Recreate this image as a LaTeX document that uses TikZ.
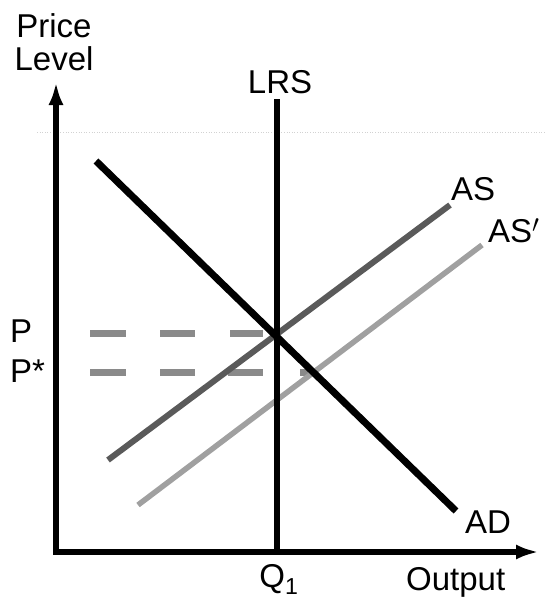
\documentclass[tikz,border=0pt]{standalone}
\usepackage{fontspec}
\setmainfont{Liberation Sans}
\usetikzlibrary{arrows.meta}
\definecolor{asdark}{HTML}{5A5A5A}
\definecolor{aslight}{HTML}{A0A0A0}
\definecolor{dashgray}{HTML}{8A8A8A}
\begin{document}
\begin{tikzpicture}[x=1pt,y=-1pt,
  lbl/.style={inner sep=0pt,font=\fontsize{33}{33}\selectfont},
  axisline/.style={line width=6.5pt,line join=miter,{Latex[length=23pt,width=15pt]}-{Latex[length=23pt,width=15pt]}},
  curveAD/.style={line width=7pt,black},
  curveAS/.style={line width=6pt,asdark},
  curveASp/.style={line width=5.5pt,aslight},
  lrsline/.style={line width=6pt,black},
  pdash/.style={line width=7pt,dashgray}]
\useasboundingbox (0,0) rectangle (547,600);
% faint scan line
\draw[gray!35,line width=0.6pt,dotted] (37,132) -- (545,132);
% axes
\coordinate (ytip) at (56,82);
\coordinate (xtip) at (539,552);
\draw[axisline] (ytip) |- (xtip);
% labels
\node[lbl,anchor=base] (price) at (54,37) {Price};
\node[lbl,anchor=base] (level) at (54,70) {Level};
\node[lbl,anchor=base] (lrslbl) at (280,93) {LRS};
\node[lbl,anchor=base west] (aslbl) at (451,200) {AS};
\node[lbl,anchor=base west] (asplbl) at (488,242) {AS$'$};
\node[lbl,anchor=base west] (plbl) at (10,342) {P};
\node[lbl,anchor=base west] (pslbl) at (10,382) {P*};
\node[lbl,anchor=base west] (adlbl) at (465,533) {AD};
\node[lbl,anchor=base] (qlbl) at (279,587) {Q\textsubscript{1}};
\node[lbl,anchor=base west] (outlbl) at (406,590) {Output};
% curve endpoints
\coordinate (asp1) at (138,505); \coordinate (asp2) at (482,245);
\coordinate (as1) at (108,460);  \coordinate (as2) at (450,205);
\coordinate (ad1) at (96,161);   \coordinate (ad2) at (456,511);
\coordinate (lrs1) at (277,99);  \coordinate (lrs2) at (277,552);
% dashes
\coordinate (pa1) at (90,333);  \coordinate (pa2) at (126,333);
\coordinate (pb1) at (160,333); \coordinate (pb2) at (195,333);
\coordinate (pc1) at (230,333); \coordinate (pc2) at (263,333);
\coordinate (sa1) at (90,372);  \coordinate (sa2) at (126,372);
\coordinate (sb1) at (160,372); \coordinate (sb2) at (195,372);
\coordinate (sc1) at (228,372); \coordinate (sc2) at (263,372);
\coordinate (sd1) at (300,372); \coordinate (sd2) at (318,372);
\foreach \a in {pa,pb,pc,sa,sb,sc,sd} \draw[pdash] (\a1) -- (\a2);
% curves
\draw[curveASp] (asp1) -- (asp2);
\draw[curveAS] (as1) -- (as2);
\draw[lrsline] (lrs1) -- (lrs2);
\draw[curveAD] (ad1) -- (ad2);
\end{tikzpicture}
\end{document}
